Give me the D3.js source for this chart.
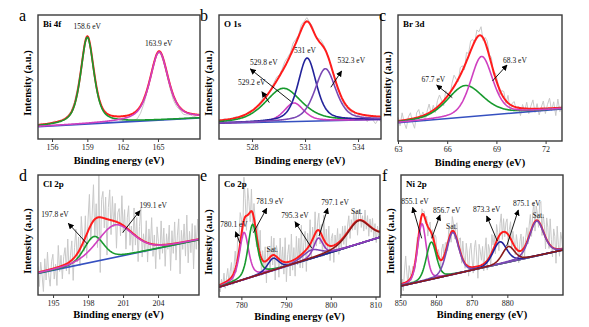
<!DOCTYPE html>
<html>
<head>
<meta charset="utf-8">
<script src="https://cdn.jsdelivr.net/npm/d3@7"></script>
<style>
  body { margin: 0; background: #fff; }
  svg { display: block; font-family: "Liberation Serif", "Times New Roman", serif; }
</style>
</head>
<body>
<svg id="chart" width="589" height="327"></svg>
<script>
// ---- data (intensity in arbitrary units, 0 = frame bottom, 1 = frame top)

// a: Bi 4f
const biDomain = [154.81, 168.57];
const biTicks = [156, 159, 162, 165];
const biBaseline = [0.10, 0.17];
const biCenters = [159.0, 165.1];
const biHeights = [0.70, 0.55];
const biWidths = [1.33, 1.86];
const biNoise = [0,1,0,-1,0,1,0,-1,0,1, 1,2,3,2,1,0,-1,-1,0,0, 0,-1,-1,-2,-2,-3,-3,-4,-5,-6,
  -7,-6,-4,-2,0,1,0,-1,-2,-2, -3,-4,-3,-2,-3,-2,-1,-2,-1,0];

// b: O 1s
const oDomain = [526.13, 535.3];
const oTicks = [528, 531, 534];
const oBaseline = [0.127, 0.157];
const oCenters = [529.77, 530.37, 531.12, 532.15];
const oHeights = [0.27, 0.15, 0.51, 0.42];
const oWidths = [2.43, 1.31, 1.23, 1.41];
const oNoise = [0,0,1,0,-1,0,1,0,0,-1, 0,1,0,-1,0,1,2,1,0,1, 2,3,1,2,4,3,2,5,3,1,
  4,2,3,1,2,0,1,3,2,1, 0,-1,1,-2,0,-1,-3,-1,-2,0, -3,-1,-4,-2,-5,-1,-3,-6,-2,-4];

// c: Br 3d
const brDomain = [63, 73];
const brTicks = [63, 66, 69, 72];
const brBaseline = [0.145, 0.255];
const brCenters = [67.1, 68.1];
const brHeights = [0.25, 0.47];
const brWidths = [2.6, 1.6];
const brNoise = [3,-4,6,-2,-7,2,5,-3,-8,4, 6,-1,3,-5,2,7,-2,4,-3,5, 8,2,-4,6,1,-3,5,9,3,-2,
  6,4,-3,7,2,8,5,-1,6,3, 7,-2,4,6,1,5,-3,4,2,-4, 3,5,-2,6,-5,2,4,-3,1,-6,
  3,-2,5,-4,2,7,-3,4,-5,1, 6,-4,3,8,-2,5,-6,7,-3,2];

// d: Cl 2p
const clDomain = [193.71, 207.51];
const clTicks = [195, 198, 201, 204];
const clBaseline = [0.18, 0.46];
const clCenters = [198.51, 200.31];
const clHeights = [0.21, 0.27];
const clWidths = [2.0, 3.64];
const clNoise = [5,-12,8,-3,-17,10,-8,15,-5,-14, 6,12,-9,3,-15,18,-4,9,-11,7,
  14,-6,20,-10,5,16,-18,8,22,-7, 12,-14,25,4,-9,18,-20,10,28,-12,
  6,30,-15,12,-25,35,-46,15,22,-8, 18,-30,10,25,-12,20,-5,15,-22,8,
  12,-10,24,-6,14,-18,9,20,-12,5, -15,22,-8,16,-20,10,26,-14,6,-9,
  18,-16,12,-5,22,-10,8,-20,15,3, -12,20,-7,14,-18,9,-4,16,-22,11,
  -8,18,-14,6,20,-26,10,-6,15,-12, 22,-18,8,-10,14,-24,12,-8,17,-5];

// e: Co 2p
const coDomain = [775, 811];
const coTicks = [780, 790, 800, 810];
const coBaseline = [0.08, 0.49];
const coCenters = [780.6, 782.5, 787.1, 795.7, 797.2, 806.2];
const coHeights = [0.386, 0.43, 0.10, 0.07, 0.15, 0.19];
const coWidths = [2.4, 2.4, 3.0, 5.0, 2.5, 6.0];
const coNoise = [-3,-6,4,-2,8,-5,3,10,-4,6, 12,-8,5,15,-6,20,8,25,12,-10,
  35,15,-12,22,10,-8,18,-15,12,6, -10,15,-5,20,-14,8,-6,12,-18,10,
  5,-12,16,-8,14,-20,9,4,-15,18, -6,12,-10,20,-16,6,14,-12,22,-8,
  10,-14,18,-6,15,-10,24,-12,8,16, -18,12,-4,20,-14,10,-8,18,-12,6,
  14,-10,8,-16,20,-6,12,-8,16,-12, 6,10,-14,8,-4,12,-10,6,-8,10,
  -6,8,-10,5,12,-8,6,-4,10,-6, 8,-12,5,9,-6,4,-8,10,-5,7, -9,6,-4,8,-7,5,-10,4,-6,3];

// f: Ni 2p
const niDomain = [850.2, 895.6];
const niTicks = [850, 860, 870, 880];
const niBaseline = [0.075, 0.375];
const niCenters = [856.06, 858.69, 864.69, 877.92, 888.2, 880.3];
const niHeights = [0.48, 0.31, 0.35, 0.185, 0.29, 0.13];
const niWidths = [2.87, 3.35, 4.06, 4.54, 4.78, 4.06];
const niNoise = [-9,4,-6,10,22,8,-4,12,5,-3, 6,2,-5,4,8,-2,3,-6,5,2,
  4,-3,6,-8,3,7,-4,5,-6,8, 10,-5,6,3,-7,9,12,-4,8,5,
  -6,10,4,-8,12,6,-5,9,14,-3, 8,12,-6,15,5,-4,18,10,-8,14,
  20,6,-5,16,22,8,-10,18,12,4, 15,-6,10,20,-8,12,6,-10,15,4,
  10,-8,14,5,-12,9,16,-6,11,-4, 8,12,-9,6,14,-7,10,4,-6,12,
  5,-10,8,14,-5,10,-8,6,12,-4, 9,15,-6,10,18,-8,12,6,-5,16,
  20,-6,14,8,-10,18,12,-4,22,6, -8,16,10,-12,19,4,-6,14,8,-3];

// ---- colours
const RED = "#ff1c1c", GREEN = "#189a2e", MAGENTA = "#cf40c0", BASE = "#3550c0",
      NAVY = "#22229a", PURPLE = "#7a48b4", VIOLET = "#8e3cb8", BROWN = "#8a1a1a", RAW = "#c9c9c9";

const panels = [
  { letter: "a", name: "Bi 4f", box: [38, 200, 15, 139], domain: biDomain, ticks: biTicks, baseline: biBaseline,
    centers: biCenters, heights: biHeights, widths: biWidths, noise: biNoise, mix: 0.6,
    colors: [GREEN, MAGENTA],
    labels: [["158.6 eV", 158.99, 0.887], ["163.9 eV", 165.06, 0.75]], arrows: [] },
  { letter: "b", name: "O 1s", box: [219, 381, 15, 139], domain: oDomain, ticks: oTicks, baseline: oBaseline,
    centers: oCenters, heights: oHeights, widths: oWidths, noise: oNoise, mix: 0.5,
    colors: [GREEN, MAGENTA, NAVY, PURPLE],
    labels: [["529.2 eV", 527.98, 0.435], ["529.8 eV", 528.67, 0.597], ["531 eV", 531.0, 0.69], ["532.3 eV", 533.62, 0.61]],
    arrows: [[528.98, 0.293, 528.56, 0.381], [530.23, 0.30, 527.9, 0.565], [532.46, 0.417, 533.07, 0.548]] },
  { letter: "c", name: "Br 3d", box: [398, 562, 15, 141], domain: brDomain, ticks: brTicks, baseline: brBaseline,
    centers: brCenters, heights: brHeights, widths: brWidths, noise: brNoise, mix: 0.4,
    colors: [GREEN, MAGENTA],
    labels: [["67.7 eV", 65.15, 0.47], ["68.3 eV", 70.13, 0.621]],
    arrows: [[66.31, 0.344, 65.36, 0.444], [68.76, 0.476, 69.65, 0.603]] },
  { letter: "d", name: "Cl 2p", box: [38, 199, 175, 295], domain: clDomain, ticks: clTicks, baseline: clBaseline,
    centers: clCenters, heights: clHeights, widths: clWidths, noise: clNoise, mix: 0.3,
    colors: [GREEN, MAGENTA],
    labels: [["197.8 eV", 195.17, 0.653], ["199.1 eV", 203.59, 0.728]],
    arrows: [[197.94, 0.425, 196.31, 0.597], [200.97, 0.52, 202.45, 0.703]] },
  { letter: "e", name: "Co 2p", box: [219, 380, 175, 297], domain: coDomain, ticks: coTicks, baseline: coBaseline,
    centers: coCenters, heights: coHeights, widths: coWidths, noise: coNoise, mix: 0.5,
    colors: [MAGENTA, GREEN, NAVY, PURPLE, VIOLET, BROWN],
    labels: [["780.1 eV", 778.36, 0.576], ["781.9 eV", 786.4, 0.76], ["Sat.", 786.9, 0.371],
             ["795.3 eV", 792.0, 0.645], ["797.1 eV", 800.95, 0.754], ["Sat.", 805.8, 0.68]],
    arrows: [[779.7, 0.44, 778.7, 0.535], [782.67, 0.527, 785.67, 0.727], [795.74, 0.40, 792.0, 0.617],
             [797.37, 0.50, 799.3, 0.727]] },
  { letter: "f", name: "Ni 2p", box: [401, 563, 175, 295], domain: niDomain, ticks: niTicks, baseline: niBaseline,
    centers: niCenters, heights: niHeights, widths: niWidths, noise: niNoise, mix: 0.3,
    colors: [MAGENTA, GREEN, PURPLE, NAVY, PURPLE, BROWN],
    labels: [["855.1 eV", 854.12, 0.756], ["856.7 eV", 863.01, 0.68], ["Sat.", 864.41, 0.55],
             ["873.3 eV", 874.22, 0.694], ["875.1 eV", 885.43, 0.744], ["Sat.", 888.68, 0.64]],
    arrows: [[856.0, 0.472, 853.48, 0.73], [858.8, 0.472, 861.13, 0.667], [877.19, 0.45, 874.22, 0.658],
             [879.82, 0.408, 883.07, 0.708]] }
];

const svg = d3.select("#chart");
const defs = svg.append("defs");
defs.append("marker")
  .attr("id", "arrow").attr("viewBox", "0 0 10 10")
  .attr("refX", 9).attr("refY", 5)
  .attr("markerWidth", 6).attr("markerHeight", 6)
  .attr("markerUnits", "userSpaceOnUse")
  .attr("orient", "auto")
  .append("path").attr("d", "M0,0 L10,5 L0,10 z").attr("fill", "#000");

// pseudo-Voigt peak
function peak(xv, c, h, w, eta) {
  const t = (xv - c) / w;
  return h * (eta / (1 + 4 * t * t) + (1 - eta) * Math.exp(-4 * Math.LN2 * t * t));
}

panels.forEach((p, pi) => {
  const [x0, x1, y0, y1] = p.box;
  const x = d3.scaleLinear().domain(p.domain).range([x0, x1]);
  const y = d3.scaleLinear().domain([0, 1]).range([y1, y0]);
  const base = d3.scaleLinear().domain(p.domain).range(p.baseline);
  const g = svg.append("g");

  defs.append("clipPath").attr("id", "clip" + pi)
    .append("rect").attr("x", x0).attr("y", y0).attr("width", x1 - x0).attr("height", y1 - y0);

  const grid = d3.range(241).map(i => p.domain[0] + (p.domain[1] - p.domain[0]) * i / 240);
  const comp = k => grid.map(xv => [xv, base(xv) + peak(xv, p.centers[k], p.heights[k], p.widths[k], p.mix)]);
  const env = xv => base(xv) + d3.sum(p.centers, (c, k) => peak(xv, c, p.heights[k], p.widths[k], p.mix));
  const line = d3.line().x(d => x(d[0])).y(d => y(d[1]));

  const plot = g.append("g").attr("clip-path", `url(#clip${pi})`);

  // measured spectrum
  const n = p.noise.length;
  const raw = p.noise.map((v, i) => {
    const xv = p.domain[0] + (p.domain[1] - p.domain[0]) * i / (n - 1);
    return [xv, env(xv) + v / 100];
  });
  plot.append("path").attr("d", line(raw)).attr("fill", "none")
    .attr("stroke", RAW).attr("stroke-width", 1);

  // background
  plot.append("path").attr("d", line(p.domain.map(xv => [xv, base(xv)])))
    .attr("fill", "none").attr("stroke", BASE).attr("stroke-width", 1.6);

  // envelope (under the components, as in the original)
  plot.append("path").attr("d", line(grid.map(xv => [xv, env(xv)]))).attr("fill", "none")
    .attr("stroke", RED).attr("stroke-width", 2);

  // fitted components
  p.centers.forEach((c, k) => {
    plot.append("path").attr("d", line(comp(k))).attr("fill", "none")
      .attr("stroke", p.colors[k]).attr("stroke-width", 1.6);
  });

  // frame
  g.append("rect").attr("x", x0).attr("y", y0).attr("width", x1 - x0).attr("height", y1 - y0)
    .attr("fill", "none").attr("stroke", "#3a3a3a").attr("stroke-width", 1.4);

  // x axis
  const ax = g.append("g").attr("transform", `translate(0,${y1})`)
    .call(d3.axisBottom(x).tickValues(p.ticks).tickSize(3).tickPadding(2).tickFormat(d3.format("d")));
  ax.select(".domain").remove();
  ax.selectAll("line").attr("stroke", "#3a3a3a");
  ax.selectAll("text").attr("font-size", 8).attr("font-family", "Liberation Serif").attr("fill", "#222");

  g.append("text").attr("x", (x0 + x1) / 2).attr("y", y1 + (pi < 3 ? 25 : 23))
    .attr("text-anchor", "middle").attr("font-size", 10.5).attr("font-weight", "bold")
    .text("Binding energy (eV)");

  const yc = (y0 + y1) / 2 + 6;
  g.append("text").attr("transform", `translate(${x0 - 7},${yc}) rotate(-90)`)
    .attr("text-anchor", "middle").attr("font-size", 10.5).attr("font-weight", "bold")
    .text("Intensity (a.u.)");

  g.append("text").attr("x", x0 - 19).attr("y", y0 + 6).attr("font-size", 16).text(p.letter);
  g.append("text").attr("x", x0 + 5).attr("y", y0 + 12).attr("font-size", 9).attr("font-weight", "bold").text(p.name);

  // annotations
  p.arrows.forEach(a => {
    g.append("line").attr("x1", x(a[0])).attr("y1", y(a[1])).attr("x2", x(a[2])).attr("y2", y(a[3]))
      .attr("stroke", "#000").attr("stroke-width", 0.9).attr("marker-end", "url(#arrow)");
  });
  p.labels.forEach(l => {
    g.append("text").attr("x", x(l[1])).attr("y", y(l[2])).attr("text-anchor", "middle")
      .attr("font-size", 7.5).attr("fill", "#111").text(l[0]);
  });
});
</script>
</body>
</html>
